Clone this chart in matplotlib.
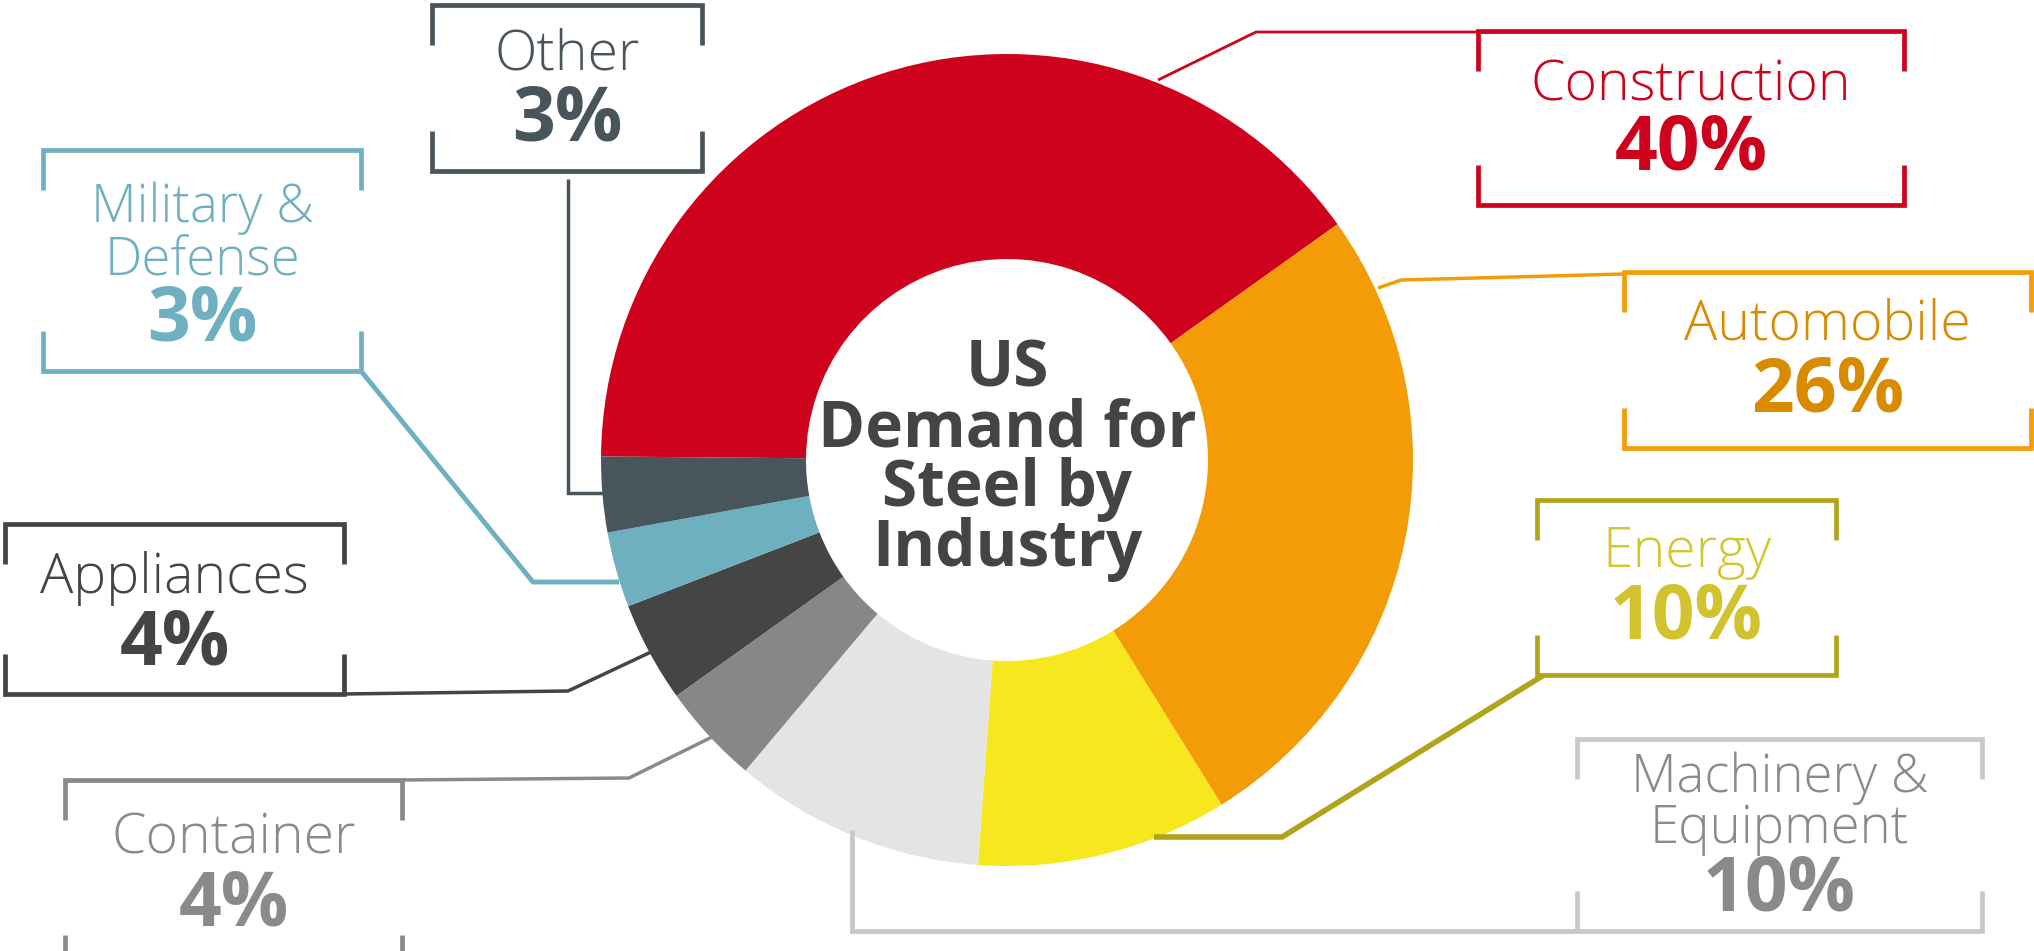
import matplotlib
matplotlib.use("Agg")
import matplotlib.pyplot as plt

# ---- data ----
categories = ["Construction", "Automobile", "Energy", "Machinery & Equipment",
              "Container", "Appliances", "Military & Defense", "Other"]
label_lines = ["Construction", "Automobile", "Energy", "Machinery &\nEquipment",
               "Container", "Appliances", "Military &\nDefense", "Other"]
values = [40, 26, 10, 10, 4, 4, 3, 3]
slice_colors = ["#CF021E", "#F39C07", "#F7E71F", "#E4E4E4",
                "#878787", "#454545", "#6EAFC0", "#48565C"]
name_colors = ["#CF021E", "#D98B00", "#D4C62E", "#8A8A8A",
               "#8A8A8A", "#444444", "#6EAFC0", "#48565C"]
pct_colors = ["#CF021E", "#D98B00", "#D2C22E", "#8A8A8A",
              "#8A8A8A", "#444444", "#6EAFC0", "#48565C"]
box_colors = ["#CF021E", "#F39C07", "#B0A41A", "#C8C8C8",
              "#8A8A8A", "#444444", "#6EAFC0", "#48565C"]
center_title = "US\nDemand for\nSteel by\nIndustry"

W, H = 2034, 951
FONT = "Open Sans"

# ---- layout (pixel coords, y measured from top) ----
cx, cy = 1007, 460
R_out, R_in = 406, 201

boxes = {
    "Construction": dict(box=(1478, 1904, 31, 205), name_y=(86,), pct_y=150),
    "Automobile": dict(box=(1624, 2031, 272, 448), name_y=(325,), pct_y=392),
    "Energy": dict(box=(1537, 1836, 500, 675), name_y=(552,), pct_y=619),
    "Machinery & Equipment": dict(box=(1577, 1982, 739, 931), name_y=(778, 829), pct_y=891),
    "Container": dict(box=(65, 402, 780, 975), name_y=(839,), pct_y=906),
    "Appliances": dict(box=(5, 344, 524, 694), name_y=(579,), pct_y=645),
    "Military & Defense": dict(box=(43, 361, 150, 371), name_y=(208, 261), pct_y=321),
    "Other": dict(box=(432, 702, 5, 171), name_y=(55,), pct_y=121),
}
leaders = {
    "Construction": ([1158, 1256, 1500], [80, 32, 32], 2.0),
    "Automobile": ([1378, 1401, 1624], [288, 280, 274], 2.5),
    "Energy": ([1544, 1282, 1154], [675, 837, 837], 4.0),
    "Machinery & Equipment": ([1577, 852, 852], [931, 931, 830], 3.5),
    "Container": ([402, 629, 712], [780, 778, 737], 2.5),
    "Appliances": ([344, 568, 651], [694, 691, 652], 2.5),
    "Military & Defense": ([361, 533, 619], [371, 582, 582], 3.5),
    "Other": ([568, 568, 603], [179, 493, 493], 2.5),
}
TICK = 40
BOX_LW = 3.4


def fy(y):
    return H - y


fig = plt.figure(figsize=(W / 100, H / 100), dpi=100)
ax = fig.add_axes([0, 0, 1, 1])

ax.pie(values, colors=slice_colors, startangle=179.5, counterclock=False,
       radius=R_out, center=(cx, fy(cy)),
       wedgeprops=dict(width=R_out - R_in, linewidth=0))

for i, cat in enumerate(categories):
    b = boxes[cat]
    x0, x1, y0, y1 = b["box"]
    col = box_colors[i]
    ax.plot([x0, x0, x1, x1], [fy(y0 + TICK), fy(y0), fy(y0), fy(y0 + TICK)],
            color=col, lw=BOX_LW, solid_joinstyle="miter", solid_capstyle="butt")
    ax.plot([x0, x0, x1, x1], [fy(y1 - TICK), fy(y1), fy(y1), fy(y1 - TICK)],
            color=col, lw=BOX_LW, solid_joinstyle="miter", solid_capstyle="butt")
    xm = (x0 + x1) / 2
    lines = label_lines[i].split("\n")
    fs = 40 if len(lines) == 1 else 38
    for t, yy in zip(lines, b["name_y"]):
        ax.text(xm, fy(yy), t, ha="center", va="center", fontsize=fs,
                color=name_colors[i], family=FONT, weight="light")
    ax.text(xm, fy(b["pct_y"]), f"{values[i]}%", ha="center", va="center",
            fontsize=54, color=pct_colors[i], family=FONT, weight="bold")
    lx, ly, llw = leaders[cat]
    ax.plot(lx, [fy(v) for v in ly], color=col, lw=llw,
            solid_joinstyle="miter", solid_capstyle="butt")

title_lines = center_title.split("\n")
for k, t in enumerate(title_lines):
    ax.text(cx, fy(370 + k * 60), t, ha="center", va="center", fontsize=46,
            color="#444444", family=FONT, weight="bold")

ax.set_xlim(0, W)
ax.set_ylim(0, H)
ax.set_aspect("auto")
ax.axis("off")
fig.savefig("out.png", dpi=100, facecolor="white")
